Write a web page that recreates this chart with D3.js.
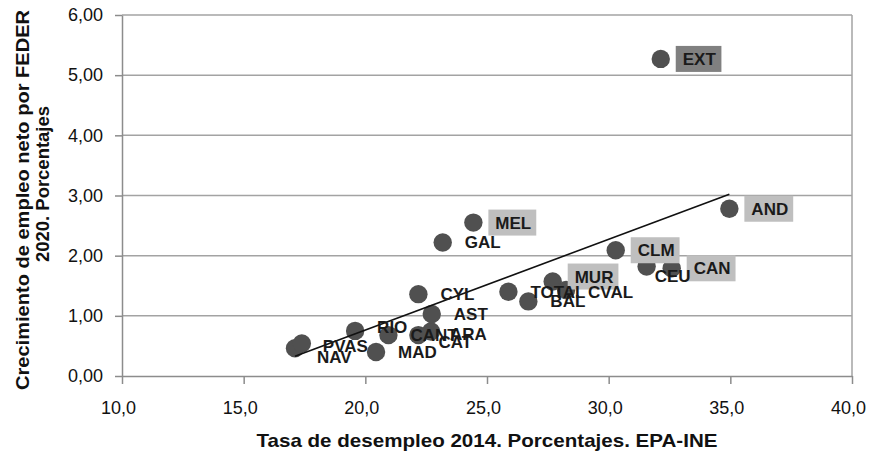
<!DOCTYPE html>
<html>
<head>
<meta charset="utf-8">
<script src="https://cdn.jsdelivr.net/npm/d3@7"></script>
<style>
  body { margin: 0; background: #fff; }
  text { font-family: "Liberation Sans", Arial, sans-serif; }
</style>
</head>
<body>
<svg width="873" height="456"></svg>
<script>
// regiones y valores
var regions = ["NAV", "PVAS", "RIO", "MAD", "CANT", "CAT", "ARA", "AST", "CYL", "GAL",
               "MEL", "TOTAL", "BAL", "MUR", "CVAL", "CLM", "CEU", "CAN", "EXT", "AND"];
var paro2014 = [17.11, 17.39, 19.58, 20.44, 20.95, 22.18, 22.70, 22.73, 22.18, 23.18,
                24.44, 25.88, 26.70, 27.70, 28.25, 30.29, 31.56, 32.59, 32.14, 34.96];
var empleoFeder = [0.46, 0.54, 0.75, 0.40, 0.68, 0.68, 0.74, 1.03, 1.36, 2.22,
                   2.55, 1.40, 1.24, 1.57, 1.43, 2.09, 1.82, 1.79, 5.27, 2.78];
// etiquetas con fondo (1 = gris claro, 2 = gris oscuro)
var highlight = [0, 0, 0, 0, 0, 0, 0, 0, 0, 0,
                 1, 0, 0, 1, 0, 1, 0, 1, 2, 1];
var xTicks = [10, 15, 20, 25, 30, 35, 40];
var yTicks = [0, 1, 2, 3, 4, 5, 6];

// ajustes manuales de posicion de etiquetas (layout)
var labelShift = {NAV: [0, 9], CEU: [-14, 10], CAT: [-2, 7], RIO: [0, -4],
                  ARA: [-3, 3], CVAL: [0, 2], MUR: [0, -5], PVAS: [-1, 2]};

var data = regions.map(function(r, i) {
    return {name: r, x: paro2014[i], y: empleoFeder[i], hl: highlight[i]};
});

var svg = d3.select("svg");
var plotLeft = 122, plotRight = 852, plotTop = 15, plotBottom = 376;

var x = d3.scaleLinear().domain([10, 40]).range([plotLeft, plotRight]);
var y = d3.scaleLinear().domain([0, 6]).range([plotBottom, plotTop]);

// gridlines
svg.append("g").selectAll("line")
    .data(yTicks.slice(1))
    .enter().append("line")
    .attr("x1", plotLeft).attr("x2", plotRight)
    .attr("y1", function(d) { return y(d); })
    .attr("y2", function(d) { return y(d); })
    .style("stroke", "#a3a3a3")
    .style("stroke-width", 1.5);

// borde derecho
svg.append("line")
    .attr("x1", plotRight).attr("x2", plotRight)
    .attr("y1", plotTop).attr("y2", plotBottom)
    .style("stroke", "#a3a3a3").style("stroke-width", 1.5);

// ejes
var xAxis = svg.append("g")
    .attr("transform", "translate(0," + plotBottom + ")")
    .call(d3.axisBottom(x).tickValues(xTicks).tickSize(8).tickSizeOuter(0)
        .tickFormat(function(d) { return d3.format(".1f")(d).replace(".", ","); }));
xAxis.selectAll("text")
    .attr("y", 0).attr("dy", 0)
    .attr("transform", "translate(-4,38)")
    .style("font-size", "18px").style("fill", "#111")
    .style("font-family", "Liberation Sans, Arial, sans-serif");

var yAxis = svg.append("g")
    .attr("transform", "translate(" + plotLeft + ",0)")
    .call(d3.axisLeft(y).tickValues(yTicks).tickSize(7).tickSizeOuter(0)
        .tickFormat(function(d) { return d3.format(".2f")(d).replace(".", ","); }));
yAxis.selectAll("text")
    .attr("x", -19)
    .style("font-size", "18px").style("fill", "#111")
    .style("font-family", "Liberation Sans, Arial, sans-serif");

svg.selectAll(".domain, .tick line")
    .style("stroke", "#8c8c8c").style("stroke-width", 1.5);

// puntos
svg.append("g").selectAll("circle")
    .data(data)
    .enter().append("circle")
    .attr("cx", function(d) { return x(d.x); })
    .attr("cy", function(d) { return y(d.y); })
    .attr("r", 9.2)
    .style("fill", "#505050");

// linea de tendencia (minimos cuadrados)
var mx = d3.mean(data, function(d) { return d.x; });
var my = d3.mean(data, function(d) { return d.y; });
var sxy = d3.sum(data, function(d) { return (d.x - mx) * (d.y - my); });
var sxx = d3.sum(data, function(d) { return (d.x - mx) * (d.x - mx); });
var slope = sxy / sxx, intercept = my - slope * mx;
var ext = d3.extent(data, function(d) { return d.x; });
svg.append("line")
    .attr("x1", x(ext[0])).attr("y1", y(intercept + slope * ext[0]))
    .attr("x2", x(ext[1])).attr("y2", y(intercept + slope * ext[1]))
    .style("stroke", "#111").style("stroke-width", 1.6);

// etiquetas: primero las que llevan fondo, luego el resto encima
var ordered = data.slice().sort(function(a, b) { return (b.hl ? 1 : 0) - (a.hl ? 1 : 0); });
var labels = svg.append("g").selectAll("g")
    .data(ordered)
    .enter().append("g")
    .attr("transform", function(d) {
        var s = labelShift[d.name] || [0, 0];
        return "translate(" + (x(d.x) + 22 + s[0]) + "," + (y(d.y) + 6 + s[1]) + ")";
    });

labels.append("text")
    .attr("font-weight", "bold")
    .style("font-size", "17px")
    .style("fill", "#1a1a1a")
    .text(function(d) { return d.name; });

labels.each(function(d) {
    if (!d.hl) return;
    var g = d3.select(this);
    var bb = g.select("text").node().getBBox();
    g.insert("rect", "text")
        .attr("x", bb.x - 7).attr("y", -19)
        .attr("width", bb.width + 12).attr("height", 26)
        .style("fill", d.hl == 2 ? "#808080" : "#bfbfbf");
});

// titulos de ejes
svg.append("text")
    .attr("x", (plotLeft + plotRight) / 2)
    .attr("y", 447)
    .attr("text-anchor", "middle")
    .attr("font-weight", "bold")
    .attr("textLength", 461)
    .attr("lengthAdjust", "spacingAndGlyphs")
    .style("font-size", "19px")
    .style("fill", "#111")
    .text("Tasa de desempleo 2014. Porcentajes. EPA-INE");

svg.append("text")
    .attr("transform", "translate(29,200) rotate(-90)")
    .attr("text-anchor", "middle")
    .attr("font-weight", "bold")
    .attr("textLength", 380)
    .attr("lengthAdjust", "spacingAndGlyphs")
    .style("font-size", "19px")
    .style("fill", "#111")
    .text("Crecimiento de empleo neto por FEDER");

svg.append("text")
    .attr("transform", "translate(49,184) rotate(-90)")
    .attr("text-anchor", "middle")
    .attr("font-weight", "bold")
    .attr("textLength", 156)
    .attr("lengthAdjust", "spacingAndGlyphs")
    .style("font-size", "19px")
    .style("fill", "#111")
    .text("2020. Porcentajes");
</script>
</body>
</html>
